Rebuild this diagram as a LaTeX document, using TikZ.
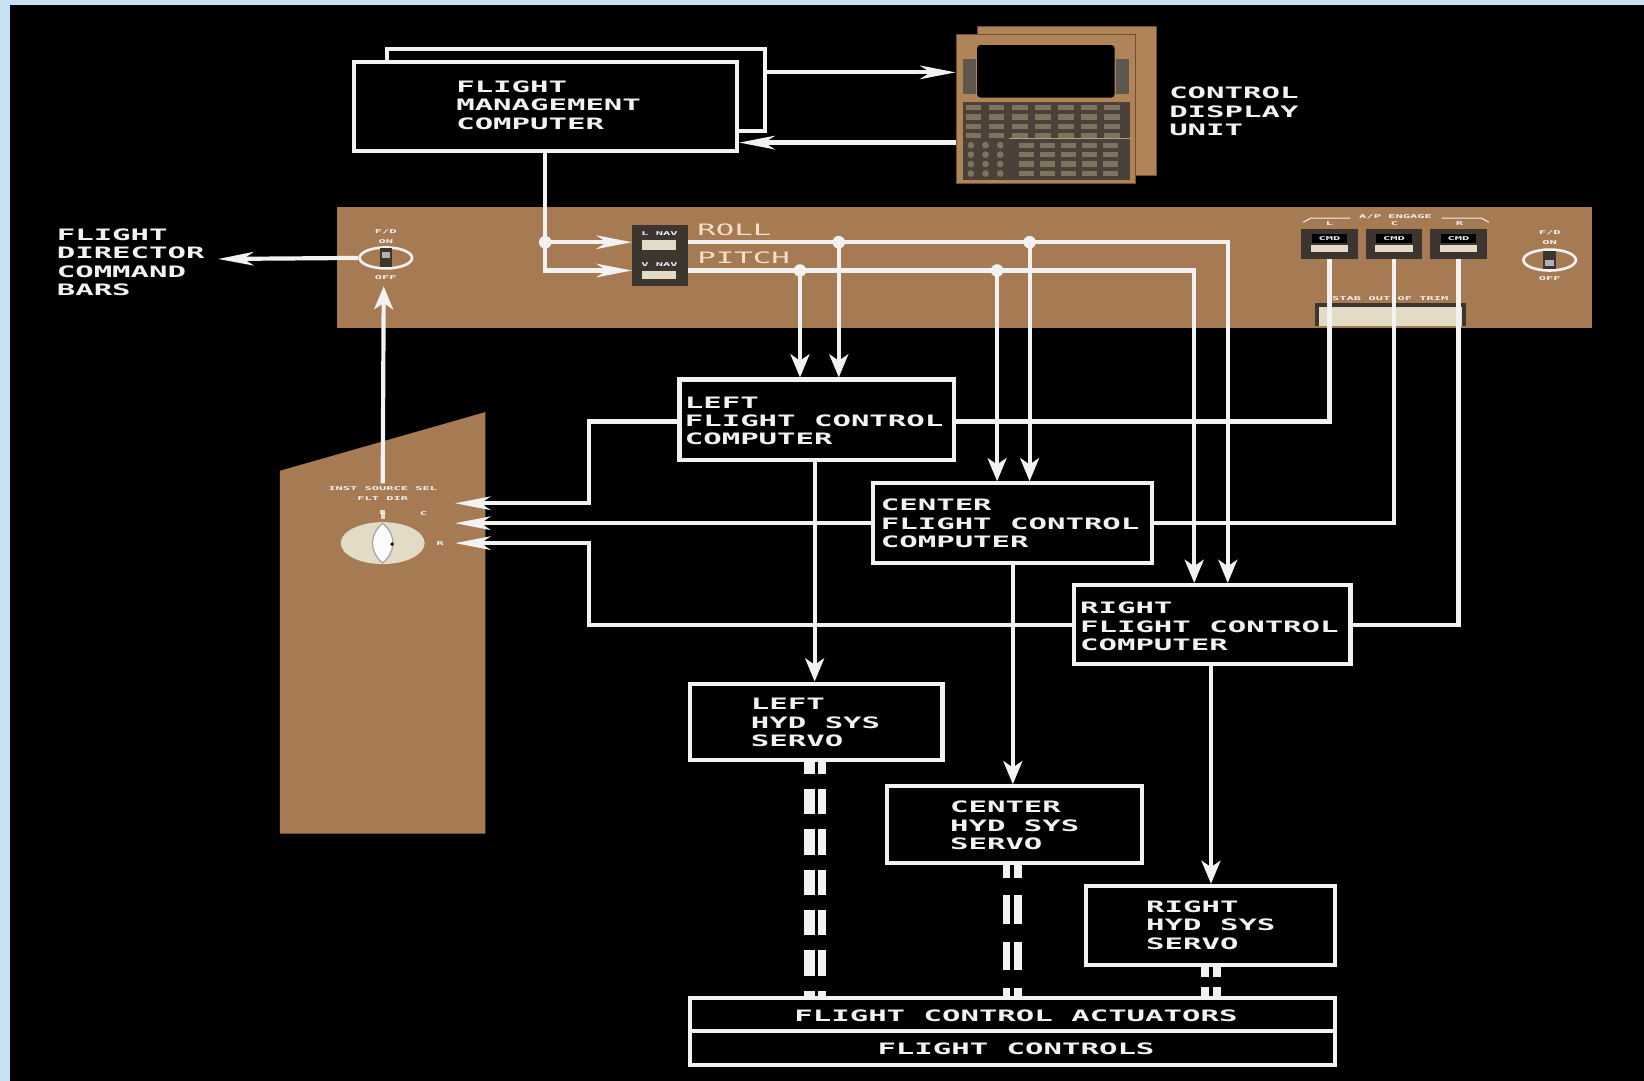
\documentclass[tikz,border=0pt]{standalone}
\usepackage{fontspec}
\newfontfamily\pixfont{DejaVu Sans Mono}[FakeStretch=1.95]
\newfontfamily\tinyfont{DejaVu Sans Mono}[FakeStretch=2.3]
\usetikzlibrary{arrows.meta,shapes.geometric}
\definecolor{bluebg}{HTML}{C6E2F3}
\definecolor{panelbrown}{HTML}{A67A52}
\definecolor{cdubrown}{HTML}{B08358}
\definecolor{cdudark}{HTML}{6E5036}
\definecolor{wline}{HTML}{F2F2F2}
\definecolor{peach}{HTML}{F6DECB}
\definecolor{darkkey}{HTML}{3D3530}
\definecolor{keypad}{HTML}{4B4139}
\definecolor{keycol}{HTML}{7D735F}
\definecolor{beige}{HTML}{E4DBC6}
\definecolor{bandgray}{HTML}{5E5750}
\tikzset{
  harr/.tip={Stealth[length=34pt,width=13pt,inset=10pt]},
  varr/.tip={Stealth[length=22pt,width=18pt,inset=6pt]},
  box/.style={draw=wline, line width=4pt, fill=black, inner sep=0pt, anchor=center},
  txt/.style={text=wline, font=\pixfont\bfseries\fontsize{15}{17.5}\selectfont, anchor=north west, inner sep=0pt, align=left},
  ctxt/.style={txt, anchor=center, align=center},
  tinytxt/.style={text=wline, font=\tinyfont\bfseries\fontsize{5}{6}\selectfont, inner sep=0pt, anchor=center, align=center},
  conn/.style={draw=wline, line width=4pt},
  hydbar/.style={draw=wline},
  swbox/.style={fill=darkkey, inner sep=0pt},
}
\begin{document}
\begin{tikzpicture}[x=1pt,y=-1pt]
\useasboundingbox (0,0) rectangle (1568,1031);
\fill[bluebg] (0,0) rectangle (1568,1031);
\fill[black] (10,5) rectangle (1568,1031);

% ---------- panels ----------
\fill[panelbrown] (321,197) rectangle (1518,313);
\fill[panelbrown] (267,449) -- (463,393) -- (463,795) -- (267,795) -- cycle;

% ---------- CDU ----------
\fill[cdubrown] (932,25) rectangle (1103,167);
\draw[cdudark, line width=1pt] (932,25) rectangle (1103,167);
\node[fill=cdubrown, draw=cdudark, line width=1pt, minimum width=171pt, minimum height=142pt, inner sep=0pt] (cdu) at (997.5,104) {};
\fill[bandgray] (918,56) rectangle (931,90);
\fill[bandgray] (1064,56) rectangle (1077,90);
\fill[black, rounded corners=3pt] (932,43) rectangle (1063,93);
\fill[keypad] (918,97) rectangle (1078,172);
\foreach \r in {0,...,3} {\foreach \c in {0,...,6} {\fill[keycol] (921+\c*22, 100+\r*9) rectangle ++(15,5);}}
\foreach \r in {4,...,7} {
  \foreach \c in {0,1,2} {\fill[keycol] (926+\c*14, 102.5+\r*9) circle (3.2pt);}
  \foreach \c in {0,...,4} {\fill[keycol] (972+\c*20, 100+\r*9) rectangle ++(14,5);}
}
\draw[cdubrown!80!white, line width=1pt] (962,132) -- (1078,132);
\node[txt] (cdutxt) at (1115,83) {CONTROL\\DISPLAY\\UNIT};

% ---------- boxes ----------
\node[box, minimum width=361pt, minimum height=78pt] (fmcback) at (549.5,86) {};
\node[box, minimum width=365pt, minimum height=85pt] (fmc) at (520.5,101.5) {};
\node[box, minimum width=262pt, minimum height=77pt] (lfcc) at (779,400.5) {};
\node[box, minimum width=266pt, minimum height=76pt] (cfcc) at (966,499) {};
\node[box, minimum width=264pt, minimum height=75pt] (rfcc) at (1156,595.5) {};
\node[box, minimum width=241pt, minimum height=73pt] (lhyd) at (778.5,688.5) {};
\node[box, minimum width=243pt, minimum height=73pt] (chyd) at (967.5,786.5) {};
\node[box, minimum width=237pt, minimum height=75pt] (rhyd) at (1154.5,882.5) {};
\node[box, minimum width=615pt, minimum height=31pt] (fca) at (965.5,967.5) {};
\node[box, minimum width=615pt, minimum height=33pt] (fcs) at (965.5,999.5) {};

% ---------- mode control panel items ----------
\node[swbox, minimum width=53pt, minimum height=58pt] (navsw) at (629.5,244) {};
\fill[beige] (612,229) rectangle (645,238);
\fill[beige] (612,258) rectangle (645,266);
\node[tinytxt] (lnav) at (629,223) {L NAV};
\node[tinytxt] (vnav) at (629,252) {V NAV};

% left F/D switch
\node[ellipse, draw=wline, line width=2.5pt, minimum width=50pt, minimum height=20pt, inner sep=0pt] (fdl) at (368,246) {};
\fill[darkkey] (362,237) rectangle (374,255);
\fill[gray!60] (364,240) rectangle (372,246);
\node[tinytxt] (fdlname) at (368,221) {F/D};
\node[tinytxt] (fdlon) at (368,230) {ON};
\node[tinytxt] (fdloff) at (368,265) {OFF};
% right F/D switch
\node[ellipse, draw=wline, line width=2.5pt, minimum width=50pt, minimum height=20pt, inner sep=0pt] (fdr) at (1478,248) {};
\fill[darkkey] (1472,239) rectangle (1484,257);
\fill[gray!60] (1474,248) rectangle (1482,254);
\node[tinytxt] (fdrname) at (1478,222) {F/D};
\node[tinytxt] (fdron) at (1478,231) {ON};
\node[tinytxt] (fdroff) at (1478,266) {OFF};

% A/P engage
\node[tinytxt] (apeng) at (1331,207) {A/P ENGAGE};
\draw[wline, line width=1pt] (1243,212) -- (1250,208) -- (1288,208);
\draw[wline, line width=1pt] (1375,208) -- (1413,208) -- (1420,212);
\node[tinytxt] (apLl) at (1268,213.5) {L};
\node[tinytxt] (apCl) at (1330,213.5) {C};
\node[tinytxt] (apRl) at (1392,213.5) {R};
\foreach \cx/\nm in {1268/apl,1329.5/apc,1391/apr} {
  \node[swbox, minimum width=54pt, minimum height=29pt] (\nm) at (\cx,232.5) {};
  \fill[black] (\cx-17,223.5) rectangle (\cx+17,231.5);
  \node[tinytxt] (cmd\nm) at (\cx,227.5) {CMD};
  \fill[beige] (\cx-18,234) rectangle (\cx+18,240);
}
% stab trim
\fill[darkkey] (1254,289) rectangle (1398,311);
\fill[beige] (1258,293) rectangle (1394,311);
\node[tinytxt] (stab) at (1326,285) {STAB OUT OF TRIM};

% ---------- rotary source selector ----------
\node[tinytxt] (srcsel) at (365,466) {INST SOURCE SEL};
\node[tinytxt] (fltdir) at (365,476) {FLT DIR};
\fill[beige] (365,518) ellipse [x radius=40pt, y radius=20pt];
\fill[white!92!beige] (365,499) .. controls (352,510) and (352,526) .. (365,537) .. controls (378,526) and (378,510) .. (365,499);
\draw[gray!70, line width=1.2pt] (365,499) .. controls (352,510) and (352,526) .. (365,537) .. controls (378,526) and (378,510) .. (365,499);
\fill[black] (374,519) circle (1.8pt);
\fill[beige] (363,486) rectangle (367,495);
\node[tinytxt] (knobL) at (365,489) {L};
\node[tinytxt] (knobC) at (404,490) {C};
\node[tinytxt] (knobR) at (420,518) {R};

% ---------- connectors ----------
\draw[conn,-harr] (fmcback.east |- 0,69) -- (cdu.west |- 0,69);
\draw[conn,-harr] (cdu.west |- 0,136) -- (fmc.east |- 0,136);

\draw[conn,-harr] (fmc.south -| 520,0) -- (520,258) -- (navsw.west |- 0,258);
\draw[conn,-harr] (520,231) -- (navsw.west |- 0,231);

\draw[conn,-varr] (navsw.east |- 0,231) -- (1171,231) -- (rfcc.north -| 1171,0);
\draw[conn,-varr] (800,231) -- (lfcc.north -| 800,0);
\draw[conn,-varr] (982,231) -- (cfcc.north -| 982,0);
\draw[conn,-varr] (navsw.east |- 0,258) -- (1139,258) -- (rfcc.north -| 1139,0);
\draw[conn,-varr] (763,258) -- (lfcc.north -| 763,0);
\draw[conn,-varr] (951,258) -- (cfcc.north -| 951,0);
\foreach \p in {(520,231),(800,231),(982,231),(763,258),(951,258)} {\fill[wline] \p circle (6pt);}

\draw[conn] (apl.south) -- (apl.south |- 0,402) -- (lfcc.east |- 0,402);
\draw[conn] (apc.south) -- (apc.south |- 0,499) -- (cfcc.east);
\draw[conn] (apr.south) -- (apr.south |- 0,596) -- (rfcc.east |- 0,596);

\coordinate (selL) at (434,480);
\coordinate (selC) at (434,499);
\coordinate (selR) at (434,518);
\draw[conn,-harr] (lfcc.west |- 0,402) -- (562,402) -- (562,480) -- (selL);
\draw[conn,-harr] (cfcc.west) -- (selC);
\draw[conn,-harr] (rfcc.west |- 0,596) -- (562,596) -- (562,518) -- (selR);

\coordinate (knobtop) at (365,461);
\coordinate (fdtipup) at (366,273);
\draw[conn,-varr] (knobtop) -- (fdtipup);
\coordinate (fdtip) at (208,247);
\draw[conn,-harr] (fdl.west) -- (fdtip);

\draw[conn,-varr] (lfcc.south -| 777,0) -- (lhyd.north -| 777,0);
\draw[conn,-varr] (cfcc.south -| 966,0) -- (chyd.north -| 966,0);
\draw[conn,-varr] (rfcc.south -| 1155,0) -- (rhyd.north -| 1155,0);

% hydraulic (dashed double) lines
\draw[hydbar, line width=10pt, dash pattern=on 24pt off 14.5pt, dash phase=13pt] (lhyd.south -| 772,0) -- (fca.north -| 772,0);
\draw[hydbar, line width=8pt, dash pattern=on 24pt off 14.5pt, dash phase=13pt] (lhyd.south -| 784,0) -- (fca.north -| 784,0);
\draw[hydbar, line width=6pt, dash pattern=on 27pt off 17pt, dash phase=15pt] (chyd.south -| 960,0) -- (fca.north -| 960,0);
\draw[hydbar, line width=7pt, dash pattern=on 27pt off 17pt, dash phase=15pt] (chyd.south -| 971,0) -- (fca.north -| 971,0);
\draw[hydbar, line width=8pt, dash pattern=on 12pt off 9pt, dash phase=2pt] (rhyd.south -| 1149,0) -- (fca.north -| 1149,0);
\draw[hydbar, line width=8pt, dash pattern=on 12pt off 9pt, dash phase=2pt] (rhyd.south -| 1161,0) -- (fca.north -| 1161,0);

% ---------- texts ----------
\node[txt] (fmctxt) at (435,77) {FLIGHT\\MANAGEMENT\\COMPUTER};
\node[txt] (fdbars) at (54,218) {FLIGHT\\DIRECTOR\\COMMAND\\BARS};
\node[txt, text=peach, font=\pixfont\fontsize{15}{17.5}\selectfont] (rolltxt) at (665,213) {ROLL};
\node[txt, text=peach, font=\pixfont\fontsize{15}{17.5}\selectfont] (pitchtxt) at (665,240) {PITCH};
\node[txt] (lfcctxt) at (653,378) {LEFT\\FLIGHT CONTROL\\COMPUTER};
\node[txt] (cfcctxt) at (840,476) {CENTER\\FLIGHT CONTROL\\COMPUTER};
\node[txt] (rfcctxt) at (1030,574) {RIGHT\\FLIGHT CONTROL\\COMPUTER};
\node[txt] (lhydtxt) at (716,666) {LEFT\\HYD SYS\\SERVO};
\node[txt] (chydtxt) at (906,764) {CENTER\\HYD SYS\\SERVO};
\node[txt] (rhydtxt) at (1093,859) {RIGHT\\HYD SYS\\SERVO};
\node[ctxt] (fcatxt) at (969,969) {FLIGHT CONTROL ACTUATORS};
\node[ctxt] (fcstxt) at (969,1000) {FLIGHT CONTROLS};
\end{tikzpicture}
\end{document}
